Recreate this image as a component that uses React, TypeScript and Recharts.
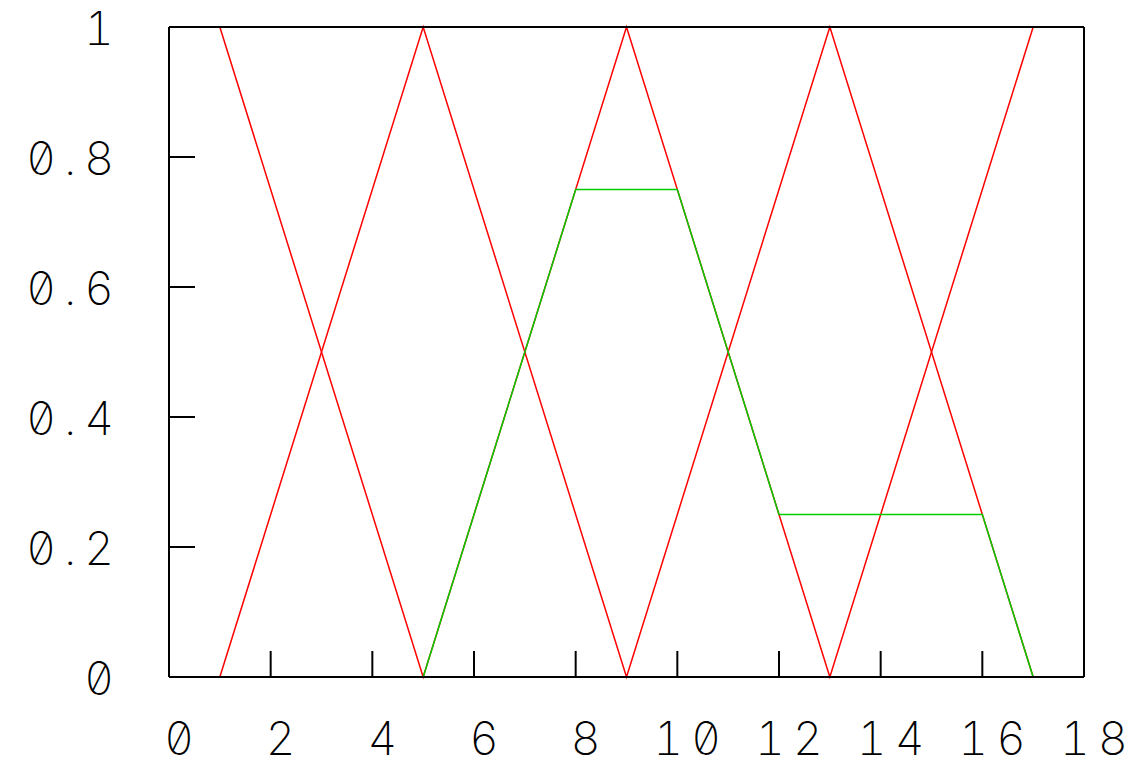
import { LineChart, Line, XAxis, YAxis } from "recharts"

// red triangle wave falling from 1
const fallX = [1, 5, 9, 13, 17]
const fallY = [1, 0, 1, 0, 1]
// red triangle wave rising from 0
const riseX = [1, 5, 9, 13, 17]
const riseY = [0, 1, 0, 1, 0]
// green envelope
const envX = [5, 8, 10, 12, 16, 17]
const envY = [0, 0.75, 0.75, 0.25, 0.25, 0]

const xTicks = [0, 2, 4, 6, 8, 10, 12, 14, 16, 18]
const yTicks = [0, 0.2, 0.4, 0.6, 0.8, 1]

const toPoints = (xs: number[], ys: number[]) => xs.map((x, i) => ({ x, y: ys[i] }))

const fall = toPoints(fallX, fallY)
const rise = toPoints(riseX, riseY)
const env = toPoints(envX, envY)

const labelFont = {
  fontFamily: "Inter, 'DejaVu Sans Mono', monospace",
  fontSize: 46,
  fontWeight: 200,
  fill: "#000",
  letterSpacing: 8,
  style: { fontVariantNumeric: "slashed-zero tabular-nums", fontFeatureSettings: '"zero" 1, "tnum" 1' },
}

const axisStroke = { stroke: "#000", strokeWidth: 2 }

export default function App() {
  return (
    <div style={{ position: "absolute", left: 0, top: 0, background: "#fff" }}>
      <LineChart width={1139} height={767} margin={{ top: 0, right: 0, bottom: 0, left: 0 }}>
        <XAxis
          xAxisId="bottom"
          type="number"
          dataKey="x"
          domain={[0, 18]}
          ticks={xTicks}
          interval={0}
          height={90}
          tickSize={-26}
          tickMargin={71}
          axisLine={axisStroke}
          tickLine={axisStroke}
          tick={{ ...labelFont, dx: 14 }}
          tickFormatter={(v) => String(v)}
        />
        <XAxis
          xAxisId="top"
          orientation="top"
          type="number"
          dataKey="x"
          domain={[0, 18]}
          ticks={xTicks}
          interval={0}
          height={27}
          tickSize={-26}
          axisLine={axisStroke}
          tickLine={axisStroke}
          tickFormatter={() => ""}
        />
        <YAxis
          yAxisId="left"
          type="number"
          domain={[0, 1]}
          ticks={yTicks}
          interval={0}
          width={169}
          tickSize={-26}
          tickMargin={73}
          axisLine={axisStroke}
          tickLine={axisStroke}
          tick={{ ...labelFont, dy: 2 }}
          tickFormatter={(v) => String(v)}
        />
        <YAxis
          yAxisId="right"
          orientation="right"
          type="number"
          domain={[0, 1]}
          ticks={yTicks}
          interval={0}
          width={55}
          tickSize={-26}
          axisLine={axisStroke}
          tickLine={axisStroke}
          tickFormatter={() => ""}
        />
        <Line
          xAxisId="bottom"
          yAxisId="left"
          data={fall}
          dataKey="y"
          type="linear"
          stroke="#ff0000"
          strokeWidth={1.5}
          dot={false}
          isAnimationActive={false}
        />
        <Line
          xAxisId="bottom"
          yAxisId="left"
          data={rise}
          dataKey="y"
          type="linear"
          stroke="#ff0000"
          strokeWidth={1.5}
          dot={false}
          isAnimationActive={false}
        />
        <Line
          xAxisId="bottom"
          yAxisId="left"
          data={env}
          dataKey="y"
          type="linear"
          stroke="#00cc00"
          strokeWidth={1.5}
          dot={false}
          isAnimationActive={false}
        />
      </LineChart>
    </div>
  )
}
